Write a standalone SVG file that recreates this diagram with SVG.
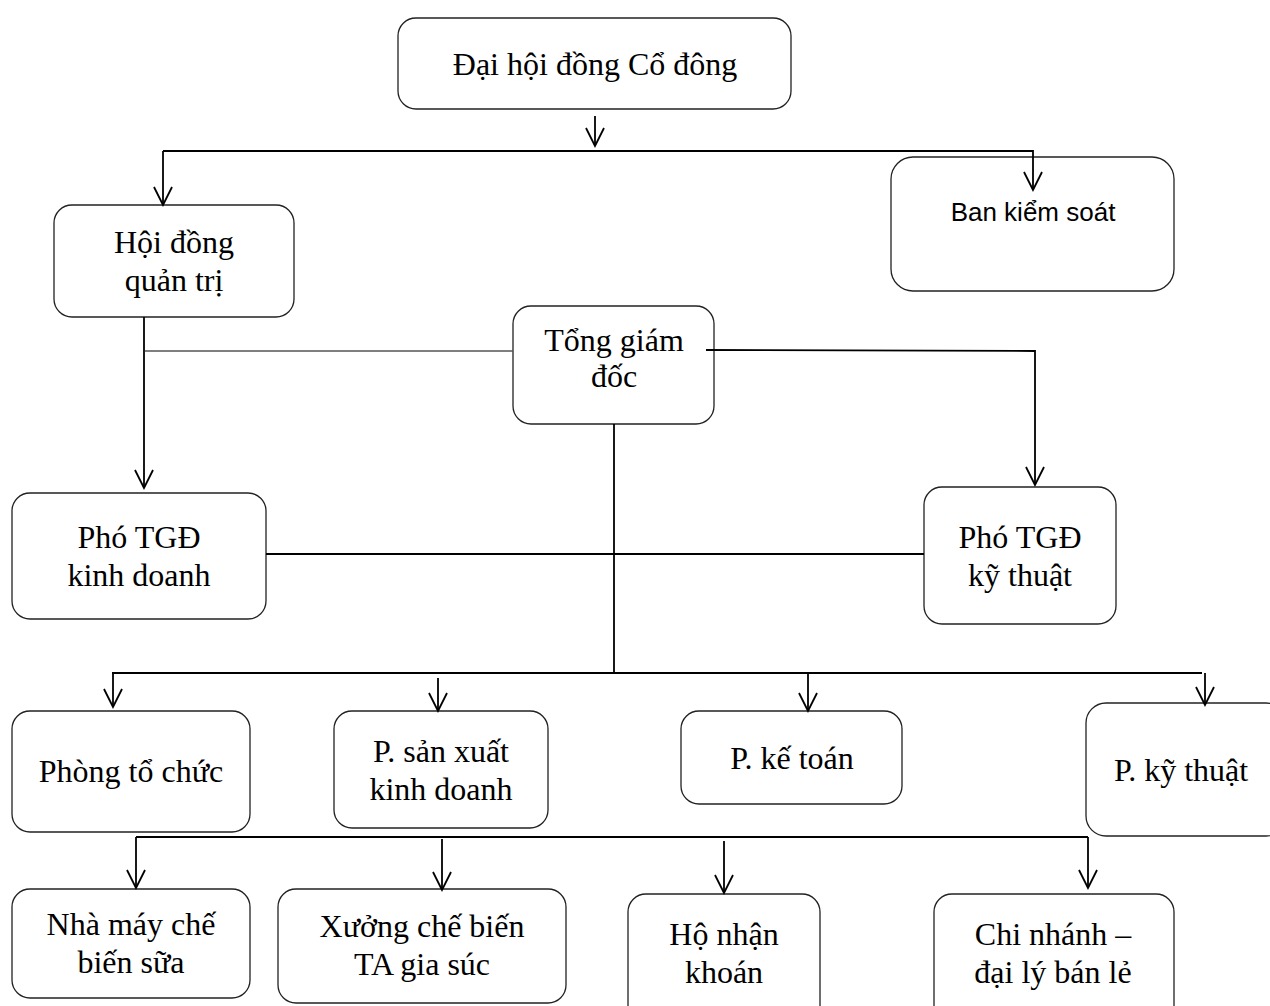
<svg xmlns="http://www.w3.org/2000/svg" width="1270" height="1006" viewBox="0 0 1270 1006">
<style>
.box{fill:#fff;stroke:#222;stroke-width:1.3}
.t{font-family:"Liberation Serif","Times New Roman",serif;font-size:32px;fill:#000;text-anchor:middle}
.s{font-family:"Liberation Sans",Arial,sans-serif;font-size:26px;fill:#000;text-anchor:middle}
.c{fill:none;stroke:#000;stroke-width:1.8}
.g{fill:none;stroke:#555;stroke-width:1.5}
</style>
<defs>
<marker id="arr" markerUnits="userSpaceOnUse" markerWidth="26" markerHeight="24" viewBox="-22 -12 26 24" refX="0" refY="0" orient="auto">
<path d="M-18,-9 L0,0 L-18,9" fill="none" stroke="#000" stroke-width="1.8"/>
</marker>
</defs>
<g id="n-dhdcd"><rect class="box" x="398" y="18" width="393" height="91" rx="18"/><text class="t" x="595" y="75">Đại hội đồng Cổ đông</text></g>
<g id="n-hdqt"><rect class="box" x="54" y="205" width="240" height="112" rx="18"/><text class="t" x="174" y="253">Hội đồng</text><text class="t" x="174" y="291">quản trị</text></g>
<g id="n-bks"><rect class="box" x="891" y="157" width="283" height="134" rx="22"/><text class="s" x="1033" y="221">Ban kiểm soát</text></g>
<g id="n-tgd"><rect class="box" x="513" y="306" width="201" height="118" rx="18"/><text class="t" x="614" y="351">Tổng giám</text><text class="t" x="614" y="387">đốc</text></g>
<g id="n-ptgdkd"><rect class="box" x="12" y="493" width="254" height="126" rx="18"/><text class="t" x="139" y="548">Phó TGĐ</text><text class="t" x="139" y="586">kinh doanh</text></g>
<g id="n-ptgdkt"><rect class="box" x="924" y="487" width="192" height="137" rx="18"/><text class="t" x="1020" y="548">Phó TGĐ</text><text class="t" x="1020" y="586">kỹ thuật</text></g>
<g id="n-ptc"><rect class="box" x="12" y="711" width="238" height="121" rx="18"/><text class="t" x="131" y="782">Phòng tổ chức</text></g>
<g id="n-psxkd"><rect class="box" x="334" y="711" width="214" height="117" rx="18"/><text class="t" x="441" y="762">P. sản xuất</text><text class="t" x="441" y="800">kinh doanh</text></g>
<g id="n-pkt"><rect class="box" x="681" y="711" width="221" height="93" rx="18"/><text class="t" x="792" y="769">P. kế toán</text></g>
<g id="n-pkyt"><rect class="box" x="1086" y="703" width="200" height="133" rx="20"/><text class="t" x="1181" y="781">P. kỹ thuật</text></g>
<g id="n-nmcbs"><rect class="box" x="12" y="889" width="238" height="109" rx="18"/><text class="t" x="131" y="935">Nhà máy chế</text><text class="t" x="131" y="973">biến sữa</text></g>
<g id="n-xcb"><rect class="box" x="278" y="889" width="288" height="114" rx="18"/><text class="t" x="422" y="937">Xưởng chế biến</text><text class="t" x="422" y="975">TA gia súc</text></g>
<g id="n-hnk"><rect class="box" x="628" y="894" width="192" height="130" rx="18"/><text class="t" x="724" y="945">Hộ nhận</text><text class="t" x="724" y="983">khoán</text></g>
<g id="n-cn"><rect class="box" x="934" y="894" width="240" height="130" rx="18"/><text class="t" x="1053" y="945">Chi nhánh –</text><text class="t" x="1053" y="983">đại lý bán lẻ</text></g>
<g id="connectors">
<line class="c" x1="595" y1="116" x2="595" y2="146" marker-end="url(#arr)"/>
<polyline class="c" points="163,151 1033,151 1033,190" marker-end="url(#arr)"/>
<line class="c" x1="163" y1="151" x2="163" y2="205" marker-end="url(#arr)"/>
<line class="c" x1="144" y1="317" x2="144" y2="488" marker-end="url(#arr)"/>
<line class="g" x1="145" y1="351" x2="513" y2="351"/>
<polyline class="c" points="706,350 1035,351 1035,485" marker-end="url(#arr)"/>
<line class="c" x1="266" y1="554" x2="924" y2="554" stroke-width="2.2"/>
<line class="c" x1="614" y1="424" x2="614" y2="673"/>
<line class="c" x1="112" y1="673" x2="1202" y2="673"/>
<line class="c" x1="113" y1="673" x2="113" y2="707" marker-end="url(#arr)"/>
<line class="c" x1="438" y1="678" x2="438" y2="711" marker-end="url(#arr)"/>
<line class="c" x1="808" y1="673" x2="808" y2="711" marker-end="url(#arr)"/>
<line class="c" x1="1205" y1="673" x2="1205" y2="705" marker-end="url(#arr)"/>
<line class="c" x1="136" y1="837" x2="1088" y2="837"/>
<line class="c" x1="136" y1="837" x2="136" y2="888" marker-end="url(#arr)"/>
<line class="c" x1="442" y1="839" x2="442" y2="890" marker-end="url(#arr)"/>
<line class="c" x1="724" y1="841" x2="724" y2="893" marker-end="url(#arr)"/>
<line class="c" x1="1088" y1="837" x2="1088" y2="888" marker-end="url(#arr)"/>
</g>
</svg>
